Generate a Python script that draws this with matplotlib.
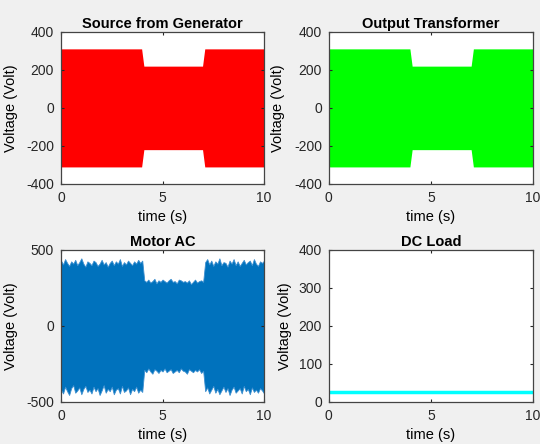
import numpy as np
import matplotlib
matplotlib.use("Agg")
import matplotlib.pyplot as plt

# envelope of the generator / transformer sine (peak voltage per interval)
grid_t = [0.0, 3.97, 4.08, 6.97, 7.08, 10.0]
grid_amp = [311, 311, 220, 220, 311, 311]

# motor AC envelope, every 0.1 s
motor_t = np.linspace(0, 10, 101)
motor_upper = [
    430, 405, 440, 415, 395, 425, 410, 435, 400, 420,
    445, 410, 390, 425, 415, 400, 430, 420, 395, 410,
    435, 405, 420, 390, 415, 430, 400, 425, 410, 440,
    395, 420, 405, 430, 415, 400, 425, 410, 435, 415,
    430,
    300, 290, 305, 285, 295, 310, 280, 300, 290, 305,
    295, 285, 300, 310, 290, 295, 280, 305, 300, 290,
    295, 285, 300, 275, 290, 305, 285, 295, 300, 290,
    420, 440, 405, 430, 395, 425, 410, 445, 400, 420,
    415, 390, 430, 410, 440, 400, 425, 395, 415, 435,
    405, 420, 430, 400, 440, 410, 395, 425, 415, 430,
]
motor_lower = [
    -420, -445, -400, -430, -455, -410, -390, -440, -425, -405,
    -450, -415, -395, -435, -420, -445, -400, -430, -410, -455,
    -425, -390, -440, -415, -430, -400, -450, -420, -410, -445,
    -395, -435, -425, -405, -450, -415, -430, -400, -440, -420,
    -435,
    -290, -305, -280, -300, -315, -285, -295, -310, -290, -300,
    -280, -305, -295, -285, -310, -300, -290, -305, -280, -295,
    -300, -315, -285, -295, -305, -290, -300, -285, -310, -295,
    -430, -405, -445, -420, -395, -440, -415, -450, -425, -400,
    -435, -410, -455, -420, -400, -440, -425, -410, -445, -395,
    -430, -415, -450, -405, -435, -420, -440, -410, -425, -445,
]

dc_t = [0, 10]
dc_v = [25, 25]

plt.rcParams['font.family'] = ['Liberation Sans', 'DejaVu Sans']
plt.rcParams['font.size'] = 10
plt.rcParams['axes.unicode_minus'] = False

fig = plt.figure(figsize=(5.4, 4.44), dpi=100)
fig.patch.set_facecolor('#f0f0f0')

positions = [
    [0.113, 0.586, 0.376, 0.342],
    [0.609, 0.586, 0.378, 0.342],
    [0.113, 0.095, 0.376, 0.342],
    [0.609, 0.095, 0.378, 0.342],
]
titles = ["Source from Generator", "Output Transformer", "Motor AC", "DC Load"]

axes = [fig.add_axes(p) for p in positions]

amp = np.array(grid_amp)
axes[0].fill_between(grid_t, -amp, amp, color='#ff0000', lw=0)
axes[1].fill_between(grid_t, -amp, amp, color='#00ff00', lw=0)
axes[2].fill_between(motor_t, motor_lower, motor_upper, color='#0072bd', lw=0.6,
                     edgecolor='#3d8fd0')
axes[3].plot(dc_t, dc_v, color='#00ffff', lw=2.5)

ylims = [(-400, 400), (-400, 400), (-500, 500), (0, 400)]
yticks = [[-400, -200, 0, 200, 400], [-400, -200, 0, 200, 400],
          [-500, 0, 500], [0, 100, 200, 300, 400]]

for ax, title, yl, yt in zip(axes, titles, ylims, yticks):
    ax.set_xlim(0, 10)
    ax.set_ylim(*yl)
    ax.set_xticks([0, 5, 10])
    ax.set_yticks(yt)
    ax.set_title(title, fontweight='bold', fontsize=10.5, pad=3)
    ax.set_xlabel("time (s)", fontsize=10.5)
    ax.set_ylabel("Voltage (Volt)", fontsize=10.5)
    ax.tick_params(direction='in', length=2.5, top=True, right=True,
                   colors='#262626', labelcolor='#262626')
    ax.tick_params(axis='x', pad=5)
    ax.tick_params(axis='y', pad=5)
    for s in ax.spines.values():
        s.set_color('#444444')
        s.set_linewidth(0.9)
    ax.xaxis.set_label_coords(0.5, -0.17)

axes[0].yaxis.set_label_coords(-0.212, 0.5)
axes[1].yaxis.set_label_coords(-0.217, 0.5)
axes[2].yaxis.set_label_coords(-0.21, 0.5)
axes[3].yaxis.set_label_coords(-0.18, 0.5)

fig.savefig("out.png", dpi=100, facecolor=fig.get_facecolor())
